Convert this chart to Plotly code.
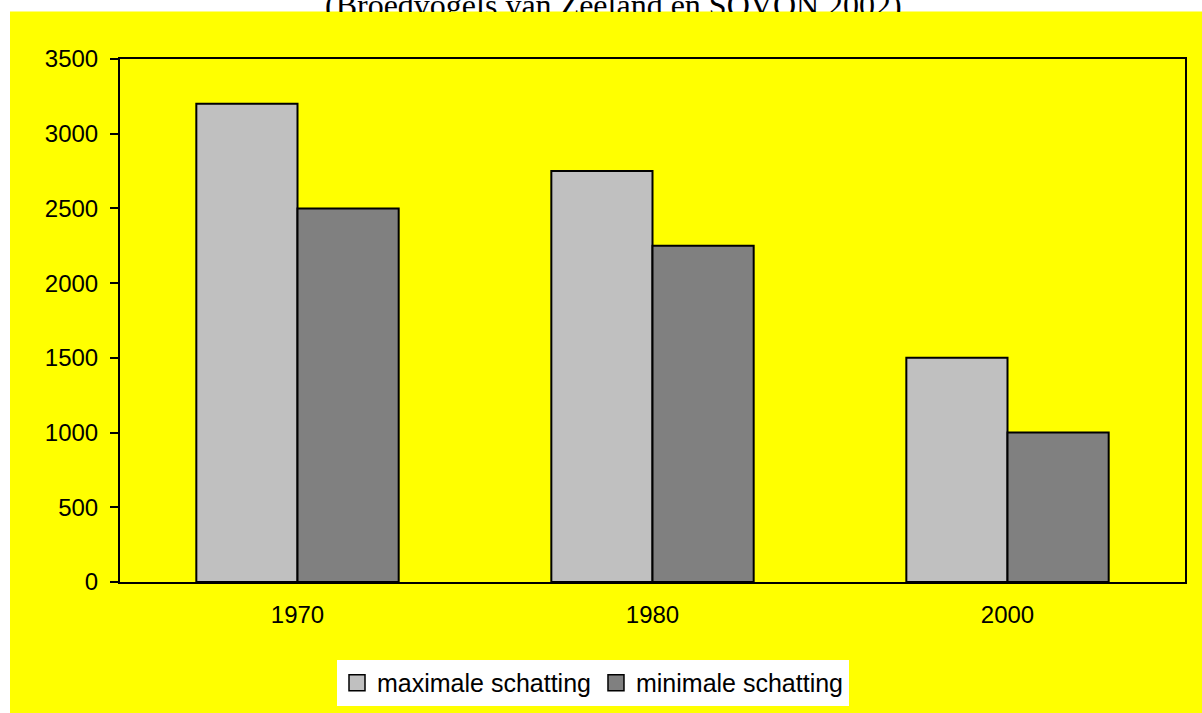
import plotly.graph_objects as go

W, H = 1202, 713
# plot frame in pixels
L, R, T, B = 120, 1185, 58.5, 582

categories = ["1970", "1980", "2000"]
max_values = [3200, 2750, 1500]
min_values = [2500, 2250, 1000]
series_names = ["maximale schatting", "minimale schatting"]
series_colors = ["#C0C0C0", "#808080"]
y_ticks = [0, 500, 1000, 1500, 2000, 2500, 3000, 3500]
title_text = "(Broedvogels van Zeeland en SOVON 2002)"


def px(x):
    return (x - L) / (R - L)


def py(y):
    return (B - y) / (B - T)


fig = go.Figure()
for vals, name, col in zip([max_values, min_values], series_names, series_colors):
    fig.add_trace(go.Bar(x=categories, y=vals, name=name, showlegend=False, legendgroup=name,
                         marker=dict(color=col, line=dict(color="black", width=2))))
# legend entries (larger square swatches)
for name, col in zip(series_names, series_colors):
    fig.add_trace(go.Scatter(x=[None], y=[None], mode="markers", name=name, legendgroup=name,
                             marker=dict(symbol="square", size=16, color=col,
                                         line=dict(color="black", width=1.5))))

fig.update_layout(
    width=W, height=H, autosize=False,
    margin=dict(l=L, r=W - R, t=T, b=H - B, pad=0, autoexpand=False),
    paper_bgcolor="white",
    plot_bgcolor="rgba(0,0,0,0)",
    barmode="group", bargap=0.43, bargroupgap=0,
    xaxis=dict(showline=True, linecolor="black", linewidth=2,
               mirror=True, ticks="", showgrid=False, zeroline=False,
               tickfont=dict(family="Liberation Sans, Arial, sans-serif", size=24, color="black"),
               ticklabelstandoff=10),
    yaxis=dict(range=[0, 3500], tickvals=y_ticks,
               showline=True, linecolor="black", linewidth=2, mirror=True,
               ticks="outside", ticklen=8, tickwidth=2, tickcolor="black",
               showgrid=False, zeroline=False,
               tickfont=dict(family="Liberation Sans, Arial, sans-serif", size=24, color="black"),
               ticklabelstandoff=7),
    showlegend=True,
    legend=dict(orientation="h", x=px(337), xanchor="left", y=py(660), yanchor="top",
                bgcolor="white", borderwidth=0, itemclick=False, itemdoubleclick=False,
                font=dict(family="Liberation Sans, Arial, sans-serif", size=25, color="black"),
                itemwidth=30, tracegroupgap=0),
    shapes=[dict(type="rect", xref="paper", yref="paper", x0=px(10), x1=px(W + 20), y0=py(H + 20), y1=py(11),
                 fillcolor="#FFFF00", line=dict(width=0), layer="below")],
    annotations=[
        dict(text=title_text, xref="paper", yref="paper", x=px(613), y=py(24),
             xanchor="center", yanchor="bottom", showarrow=False,
             font=dict(family="Liberation Serif, Times New Roman, serif", size=32, color="black")),
        dict(text=" ", xref="paper", yref="paper", x=px(10), y=py(11),
             xanchor="left", yanchor="top", showarrow=False, width=W - 10, height=30,
             bgcolor="#FFFF00", borderwidth=0, borderpad=0),
    ],
)

fig.write_html(
    "out.html", config=dict(displayModeBar=False),
    post_script=("document.documentElement.style.overflow='hidden';"
                 "document.body.style.margin='0';document.body.style.overflow='hidden';"
                 "document.body.style.background='#FFFF00';"),
)
